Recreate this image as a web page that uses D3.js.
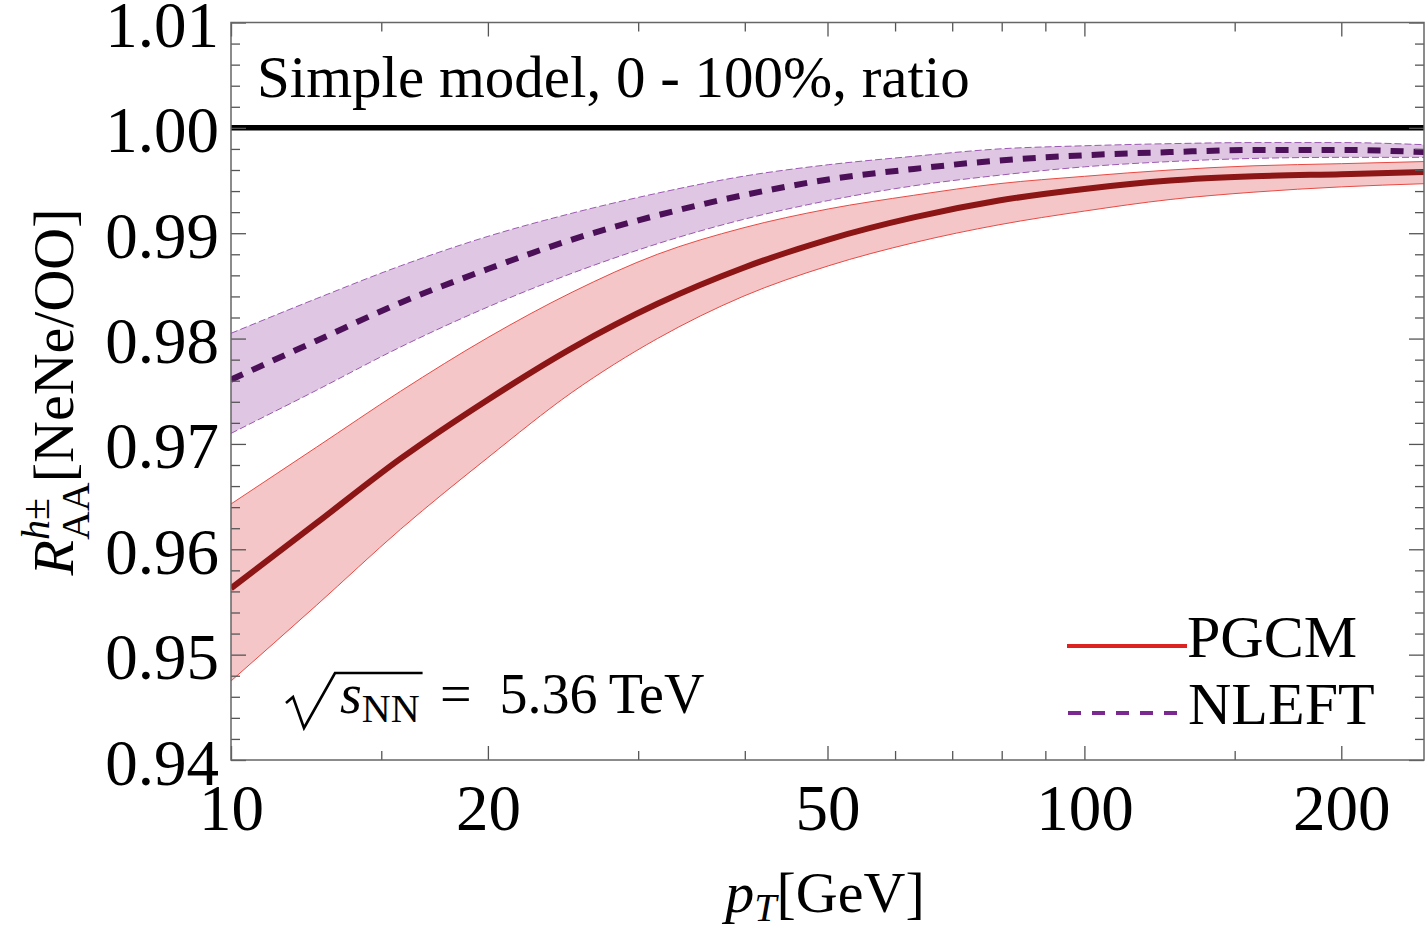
<!DOCTYPE html>
<html>
<head>
<meta charset="utf-8">
<script src="https://cdn.jsdelivr.net/npm/d3@7"></script>
<style>
body { margin: 0; background: #fff; }
svg { display: block; }
text { font-family: "Liberation Serif", "Times New Roman", serif; fill: #000; }
</style>
</head>
<body>
<svg width="1425" height="933"></svg>
<script>
// pT grid (GeV)
var pT = [10, 12.6, 15.8, 20, 25.1, 31.6, 39.8, 50.1, 63.1, 79.4, 100, 126, 158, 200, 250];

// PGCM: central line and band
var pgcm   = [0.9563, 0.9625, 0.9686, 0.9742, 0.9791, 0.9833, 0.9867, 0.9894, 0.9915, 0.9931, 0.9942, 0.9950, 0.9954, 0.9956, 0.9958];
var pgcmHi = [0.9643, 0.9697, 0.9750, 0.9801, 0.9844, 0.9880, 0.9905, 0.9923, 0.9936, 0.9947, 0.9954, 0.9960, 0.9964, 0.9966, 0.9968];
var pgcmLo = [0.9475, 0.9547, 0.9619, 0.9687, 0.9749, 0.9800, 0.9840, 0.9869, 0.9891, 0.9908, 0.9921, 0.9932, 0.9939, 0.9944, 0.9947];

// NLEFT: central line and band
var nleft   = [0.9761, 0.9798, 0.9834, 0.9866, 0.9894, 0.9917, 0.9936, 0.9951, 0.9961, 0.9969, 0.9974, 0.9977, 0.9979, 0.9979, 0.9977];
var nleftHi = [0.9805, 0.9838, 0.9869, 0.9897, 0.9919, 0.9938, 0.9954, 0.9965, 0.9973, 0.9980, 0.9983, 0.9985, 0.9986, 0.9986, 0.9984];
var nleftLo = [0.9710, 0.9751, 0.9792, 0.9830, 0.9862, 0.9890, 0.9913, 0.9931, 0.9945, 0.9955, 0.9963, 0.9968, 0.9971, 0.9972, 0.9972];

var xMajor = [10, 20, 50, 100, 200];
var xMinor = [15, 30, 40, 60, 70, 80, 90, 150];
var yMajor = [0.94, 0.95, 0.96, 0.97, 0.98, 0.99, 1.00, 1.01];
var yMinor = d3.range(0, 36).map(function(i) { return +(0.94 + i * 0.002).toFixed(3); })
  .filter(function(v) { return Math.round(v * 1000) % 10 !== 0; });

var svg = d3.select("svg");
var pLeft = 231, pRight = 1424, pTop = 22.5, pBottom = 760;

var x = d3.scaleLog().domain([10, 250]).range([pLeft, pRight]);
var y = d3.scaleLinear().domain([0.94, 1.01]).range([pBottom, pTop]);

svg.append("clipPath").attr("id", "plot")
  .append("rect").attr("x", pLeft).attr("y", pTop)
  .attr("width", pRight - pLeft).attr("height", pBottom - pTop);

function rows(lo, mid, hi) {
  return pT.map(function(p, i) { return { pt: p, lo: lo[i], mid: mid[i], hi: hi[i] }; });
}
var pgcmData = rows(pgcmLo, pgcm, pgcmHi);
var nleftData = rows(nleftLo, nleft, nleftHi);

var area = d3.area()
  .x(function(d) { return x(d.pt); })
  .y0(function(d) { return y(d.lo); })
  .y1(function(d) { return y(d.hi); })
  .curve(d3.curveMonotoneX);
function edge(key) {
  return d3.line()
    .x(function(d) { return x(d.pt); })
    .y(function(d) { return y(d[key]); })
    .curve(d3.curveMonotoneX);
}

var g = svg.append("g").attr("clip-path", "url(#plot)");

// bands
g.append("path").datum(pgcmData).attr("d", area).attr("fill", "#f5c6c8");
g.append("path").datum(nleftData).attr("d", area).attr("fill", "#dfc7e3");

["lo", "hi"].forEach(function(k) {
  g.append("path").datum(pgcmData).attr("d", edge(k))
    .attr("fill", "none").attr("stroke", "#e84a44").attr("stroke-width", 1);
  g.append("path").datum(nleftData).attr("d", edge(k))
    .attr("fill", "none").attr("stroke", "#9b58b0").attr("stroke-width", 1)
    .attr("stroke-dasharray", "7,3");
});

// reference line at 1
g.append("line").attr("x1", pLeft).attr("x2", pRight)
  .attr("y1", y(1)).attr("y2", y(1))
  .attr("stroke", "#000").attr("stroke-width", 5.5);

// central lines
g.append("path").datum(pgcmData).attr("d", edge("mid"))
  .attr("fill", "none").attr("stroke", "#8c1515").attr("stroke-width", 6);
g.append("path").datum(nleftData).attr("d", edge("mid"))
  .attr("fill", "none").attr("stroke", "#4b1058").attr("stroke-width", 6)
  .attr("stroke-dasharray", "13,10");

// frame + ticks
var tickColor = "#555";
function styleAxis(sel) {
  sel.select(".domain").remove();
  sel.selectAll(".tick line").attr("stroke", tickColor).attr("stroke-width", 1.3);
  sel.selectAll("text").style("font-size", "65px").attr("fill", "#000");
}

svg.append("g").attr("transform", "translate(" + pLeft + ",0)")
  .call(d3.axisLeft(y).tickValues(yMajor).tickSize(-15).tickPadding(12).tickFormat(d3.format(".2f")))
  .call(styleAxis)
  .call(function(a) { a.selectAll("text").attr("dy", "0.37em"); });
svg.append("g").attr("transform", "translate(" + pLeft + ",0)")
  .call(d3.axisLeft(y).tickValues(yMinor).tickSize(-9).tickFormat(""))
  .call(styleAxis);
svg.append("g").attr("transform", "translate(" + pRight + ",0)")
  .call(d3.axisRight(y).tickValues(yMajor).tickSize(-15).tickFormat(""))
  .call(styleAxis);
svg.append("g").attr("transform", "translate(" + pRight + ",0)")
  .call(d3.axisRight(y).tickValues(yMinor).tickSize(-9).tickFormat(""))
  .call(styleAxis);

svg.append("g").attr("transform", "translate(0," + pBottom + ")")
  .call(d3.axisBottom(x).tickValues(xMajor).tickSize(-14).tickPadding(24).tickFormat(d3.format("d")))
  .call(styleAxis);
svg.append("g").attr("transform", "translate(0," + pBottom + ")")
  .call(d3.axisBottom(x).tickValues(xMinor).tickSize(-9).tickFormat(""))
  .call(styleAxis);
svg.append("g").attr("transform", "translate(0," + pTop + ")")
  .call(d3.axisTop(x).tickValues(xMajor).tickSize(-14).tickFormat(""))
  .call(styleAxis);
svg.append("g").attr("transform", "translate(0," + pTop + ")")
  .call(d3.axisTop(x).tickValues(xMinor).tickSize(-9).tickFormat(""))
  .call(styleAxis);

svg.append("rect").attr("x", pLeft).attr("y", pTop)
  .attr("width", pRight - pLeft).attr("height", pBottom - pTop)
  .attr("fill", "none").attr("stroke", "#666").attr("stroke-width", 1.5);

// title
svg.append("text").attr("x", 257).attr("y", 97)
  .style("font-size", "59px")
  .text("Simple model, 0 - 100%, ratio");

// sqrt(s_NN) = 5.36 TeV
var sNN = svg.append("text").attr("x", 340).attr("y", 713).style("font-size", "56px");
sNN.append("tspan").style("font-style", "italic").text("s");
sNN.append("tspan").attr("dy", 9).style("font-size", "40px").text("NN");
var bb = sNN.node().getBBox();
var rad = d3.path();
rad.moveTo(286, 703);
rad.lineTo(293, 697);
rad.lineTo(304, 728);
rad.lineTo(335, 673);
rad.lineTo(bb.x + bb.width + 3, 673);
svg.append("path").attr("d", rad.toString())
  .attr("fill", "none").attr("stroke", "#000").attr("stroke-width", 2.6)
  .attr("stroke-linejoin", "miter");
svg.append("text").attr("x", 440).attr("y", 713).style("font-size", "56px")
  .text("=\u20025.36\u2009TeV");

// legend
svg.append("line").attr("x1", 1067).attr("x2", 1187).attr("y1", 646).attr("y2", 646)
  .attr("stroke", "#dd2222").attr("stroke-width", 4);
svg.append("text").attr("x", 1187).attr("y", 657).style("font-size", "60px").text("PGCM");
svg.append("line").attr("x1", 1068).attr("x2", 1180).attr("y1", 713).attr("y2", 713)
  .attr("stroke", "#7b2890").attr("stroke-width", 4).attr("stroke-dasharray", "13,11");
svg.append("text").attr("x", 1188).attr("y", 724).style("font-size", "60px").text("NLEFT");

// x label
var xl = svg.append("text").attr("x", 825).attr("y", 912)
  .attr("text-anchor", "middle").style("font-size", "58px");
xl.append("tspan").style("font-style", "italic").text("p");
xl.append("tspan").attr("dy", 9).style("font-style", "italic").style("font-size", "40px").text("T");
xl.append("tspan").attr("dy", -9).text("[GeV]");

// y label
var yl = svg.append("text").attr("transform", "translate(73,392) rotate(-90)")
  .attr("text-anchor", "middle").style("font-size", "58px");
yl.append("tspan").style("font-style", "italic").text("R");
yl.append("tspan").attr("dy", -24).style("font-size", "40px").style("font-style", "italic").text("h");
yl.append("tspan").style("font-size", "40px").text("\u00B1");
yl.append("tspan").attr("dx", -42).attr("dy", 40).style("font-size", "40px").text("AA");
yl.append("tspan").attr("dy", -16).text("[NeNe/OO]");
</script>
</body>
</html>
